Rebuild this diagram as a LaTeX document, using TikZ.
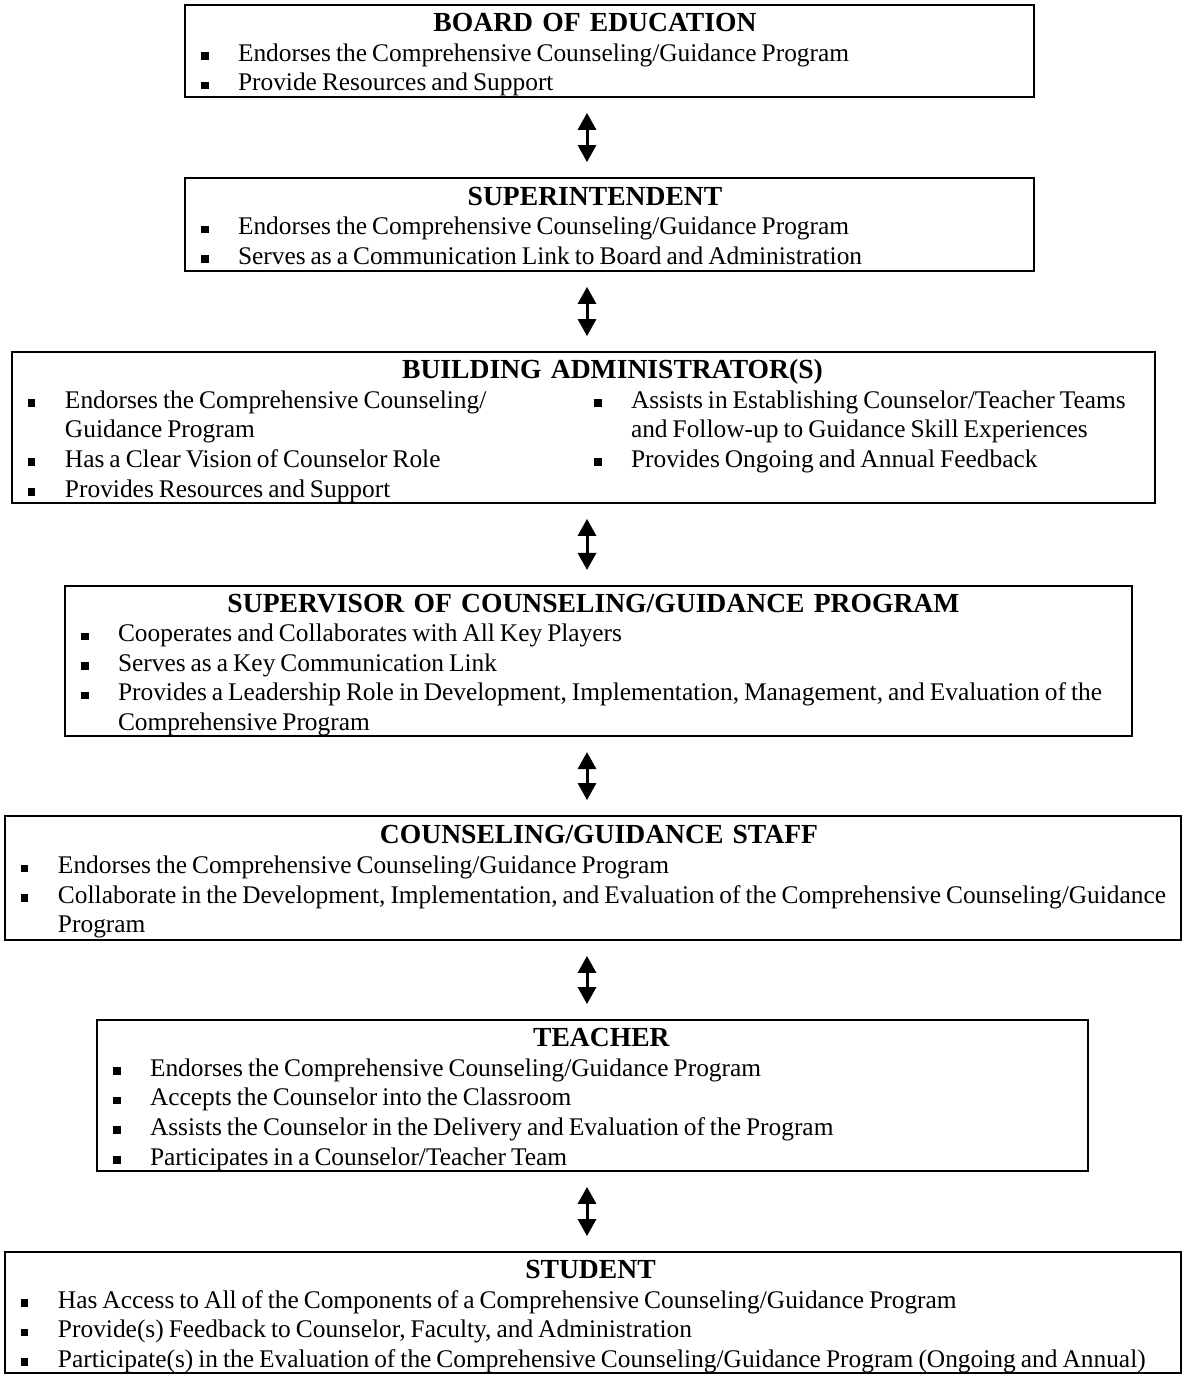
\documentclass[tikz,border=0pt]{standalone}
\usepackage{fontspec}
\setmainfont{Liberation Serif}
\usetikzlibrary{arrows.meta}

% one line of a box: title, bullet item, continued text
\newcommand\ttl[2][0pt]{\par\noindent\makebox[\linewidth]{\hspace*{#1}\strut\fontsize{27.6}{29.6}\selectfont\spaceskip=.3333em\relax\textbf{#2}}}
\newcommand\brow{\par\noindent\strut}
\newcommand\bul[2][16pt]{\rlap{\hspace*{#1}\rule[1.5pt]{7.5pt}{7.5pt}}\rlap{\spaceskip=5pt\relax\hspace*{\dimexpr#1+37pt\relax}#2}}
\newcommand\cont[2][53pt]{\rlap{\spaceskip=5pt\relax\hspace*{#1}#2}}

\begin{document}
\begin{tikzpicture}[x=1pt,y=-1pt,
    box/.style={draw,line width=1.8pt,inner xsep=0pt,inner ysep=-3.3pt,
      font=\fontsize{25.4}{29.6}\selectfont},
    link/.style={{Triangle[length=17pt,width=18pt]}-{Triangle[length=17pt,width=18pt]},
      line width=3pt,shorten <=15pt,shorten >=15pt}]
  \useasboundingbox (0,0) rectangle (1183,1375);

  \node[box,text width=849pt,minimum height=92pt] (board) at (609.5,51) {%
    \ttl[-29pt]{BOARD OF EDUCATION}
    \brow\bul{Endorses the Comprehensive Counseling/Guidance Program}
    \brow\bul{Provide Resources and Support}};

  \node[box,text width=849pt,minimum height=93pt] (supt) at (609.5,224.5) {%
    \ttl[-29pt]{SUPERINTENDENT}
    \brow\bul{Endorses the Comprehensive Counseling/Guidance Program}
    \brow\bul{Serves as a Communication Link to Board and Administration}};

  \node[box,text width=1143pt,minimum height=151pt] (admin) at (583.5,427.5) {%
    \ttl[58pt]{BUILDING ADMINISTRATOR(S)}
    \brow\bul{Endorses the Comprehensive Counseling/}\bul[582pt]{Assists in Establishing Counselor/Teacher Teams}
    \brow\cont{Guidance Program}\cont[619pt]{and Follow-up to Guidance Skill Experiences}
    \brow\bul{Has a Clear Vision of Counselor Role}\bul[582pt]{Provides Ongoing and Annual Feedback}
    \brow\bul{Provides Resources and Support}};

  \node[box,text width=1067pt,minimum height=148pt] (superv) at (598.5,661) {%
    \ttl[-10pt]{SUPERVISOR OF COUNSELING/GUIDANCE PROGRAM}
    \brow\bul{Cooperates and Collaborates with All Key Players}
    \brow\bul{Serves as a Key Communication Link}
    \brow\bul{Provides a Leadership Role in Development, Implementation, Management, and Evaluation of the}
    \brow\cont{Comprehensive Program}};

  \node[box,text width=1176pt,minimum height=124pt] (staff) at (593,878) {%
    \ttl[12pt]{COUNSELING/GUIDANCE STAFF}
    \brow\bul{Endorses the Comprehensive Counseling/Guidance Program}
    \brow\bul{Collaborate in the Development, Implementation, and Evaluation of the Comprehensive Counseling/Guidance}
    \brow\cont{Program}};

  \node[box,text width=991pt,minimum height=151pt] (teacher) at (592.5,1095.5) {%
    \ttl[18pt]{TEACHER}
    \brow\bul{Endorses the Comprehensive Counseling/Guidance Program}
    \brow\bul{Accepts the Counselor into the Classroom}
    \brow\bul{Assists the Counselor in the Delivery and Evaluation of the Program}
    \brow\bul{Participates in a Counselor/Teacher Team}};

  \node[box,text width=1176pt,minimum height=121pt] (student) at (593,1312.5) {%
    \ttl[-5pt]{STUDENT}
    \brow\bul{Has Access to All of the Components of a Comprehensive Counseling/Guidance Program}
    \brow\bul{Provide(s) Feedback to Counselor, Faculty, and Administration}
    \brow\bul{Participate(s) in the Evaluation of the Comprehensive Counseling/Guidance Program (Ongoing and Annual)}};

  \coordinate (mid) at (587,0);
  \draw[link] (board.south -| mid) -- (supt.north -| mid);
  \draw[link] (supt.south -| mid) -- (admin.north -| mid);
  \draw[link] (admin.south -| mid) -- (superv.north -| mid);
  \draw[link] (superv.south -| mid) -- (staff.north -| mid);
  \draw[link] (staff.south -| mid) -- (teacher.north -| mid);
  \draw[link] (teacher.south -| mid) -- (student.north -| mid);
\end{tikzpicture}
\end{document}
